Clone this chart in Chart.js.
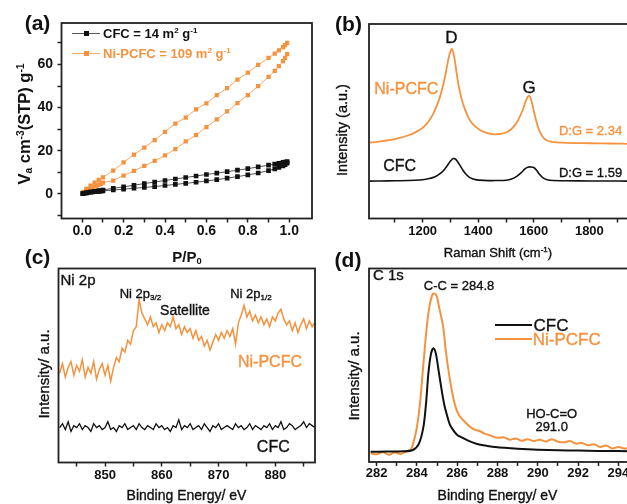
<!DOCTYPE html>
<html><head><meta charset="utf-8">
<script src="https://cdn.jsdelivr.net/npm/chart.js@4.4.1/dist/chart.umd.min.js"></script>
<style>
html,body{margin:0;padding:0;background:#fff;}
#wrap{position:relative;width:627px;height:504px;overflow:hidden;background:#fff;font-family:"Liberation Sans",Arial,sans-serif;}
canvas{position:absolute;left:0;top:0;}
.t{position:absolute;transform:translate(-50%,-50%);white-space:nowrap;line-height:1;color:#111;-webkit-text-stroke:0.35px currentColor;}
.r{transform:translate(-50%,-50%) rotate(-90deg);}
.l{transform:translate(0,-50%);}
.b{font-weight:bold;-webkit-text-stroke:0;}
.o{color:#F5923E;}
sup,sub{font-size:0.62em;line-height:0;}
sup{vertical-align:0.55em;} sub{vertical-align:-0.25em;}
.ln{position:absolute;}
</style></head><body><div id="wrap">
<canvas id="ca" width="640" height="504"></canvas>
<canvas id="cb" width="640" height="504"></canvas>
<canvas id="cc" width="640" height="504"></canvas>
<canvas id="cd" width="640" height="504"></canvas>

<!-- panel labels -->
<div class="t b" style="left:37.5px;top:21.5px;font-size:21px">(a)</div>
<div class="t b" style="left:348.5px;top:22.5px;font-size:21px">(b)</div>
<div class="t b" style="left:37.5px;top:256px;font-size:21px">(c)</div>
<div class="t b" style="left:348px;top:259px;font-size:21px">(d)</div>

<!-- panel a -->
<div class="t r b" style="left:24px;top:123.5px;font-size:16.5px">V<sub>a</sub> cm<sup>-3</sup>(STP) g<sup>-1</sup></div>
<div class="t b" style="left:187px;top:256px;font-size:15px">P/P<sub>0</sub></div>
<div class="ln" style="left:72px;top:32.5px;width:28px;height:1.2px;background:#555"></div>
<div class="ln" style="left:83.5px;top:30.5px;width:5px;height:5px;background:#111"></div>
<div class="t l b" style="left:103px;top:33px;font-size:13px">CFC = 14 m<sup>2</sup> g<sup>-1</sup></div>
<div class="ln" style="left:72px;top:52.8px;width:28px;height:1.2px;background:#F7A865"></div>
<div class="ln" style="left:83.5px;top:51px;width:5px;height:5px;background:#F5923E"></div>
<div class="t l b o" style="left:103px;top:53.3px;font-size:13px">Ni-PCFC = 109 m<sup>2</sup> g<sup>-1</sup></div>

<!-- panel b -->
<div class="t r" style="left:342px;top:130px;font-size:14.5px">Intensity (a.u.)</div>
<div class="t" style="left:498px;top:251.5px;font-size:13px">Raman Shift (cm<sup>-1</sup>)</div>
<div class="t" style="left:451.3px;top:37.3px;font-size:17px">D</div>
<div class="t" style="left:529px;top:87.3px;font-size:17px">G</div>
<div class="t o" style="left:406.3px;top:89px;font-size:16px">Ni-PCFC</div>
<div class="t" style="left:399.7px;top:165.7px;font-size:16px">CFC</div>
<div class="t o" style="left:590.5px;top:129.8px;font-size:13px">D:G = 2.34</div>
<div class="t" style="left:590.5px;top:171.5px;font-size:13px">D:G = 1.59</div>

<!-- panel c -->
<div class="t r" style="left:42.5px;top:374px;font-size:15px">Intensity/ a.u.</div>
<div class="t" style="left:186.5px;top:495px;font-size:14px">Binding Energy/ eV</div>
<div class="t" style="left:78px;top:279px;font-size:15px">Ni 2p</div>
<div class="t" style="left:140.5px;top:293.3px;font-size:13px">Ni 2p<sub>3/2</sub></div>
<div class="t" style="left:185px;top:310px;font-size:14px">Satellite</div>
<div class="t" style="left:251px;top:293.3px;font-size:13px">Ni 2p<sub>1/2</sub></div>
<div class="t o" style="left:270px;top:361.7px;font-size:16px">Ni-PCFC</div>
<div class="t" style="left:273.3px;top:446.7px;font-size:16px">CFC</div>

<!-- panel d -->
<div class="t r" style="left:353px;top:376px;font-size:15px">Intensity/ a.u.</div>
<div class="t" style="left:497.5px;top:495px;font-size:14px">Binding Energy/ eV</div>
<div class="t" style="left:388.3px;top:274px;font-size:15px">C 1s</div>
<div class="t" style="left:459px;top:285px;font-size:13px">C-C = 284.8</div>
<div class="ln" style="left:495px;top:324px;width:37px;height:2px;background:#111"></div>
<div class="ln" style="left:495px;top:337.5px;width:37px;height:2px;background:#F5923E"></div>
<div class="t" style="left:551px;top:325px;font-size:17px">CFC</div>
<div class="t o" style="left:566.7px;top:339px;font-size:17px">Ni-PCFC</div>
<div class="t" style="left:551.7px;top:412.5px;font-size:13px">HO-C=O</div>
<div class="t" style="left:551.7px;top:425.8px;font-size:13px">291.0</div>
</div>
<script>
const ORANGE = '#F5923E';
const BLACK = '#111111';

// ---------- Panel (a): N2 isotherms ----------
const pAds = [0.002, 0.01, 0.02, 0.03, 0.04, 0.05, 0.06, 0.07, 0.08, 0.09, 0.10, 0.15, 0.20, 0.25, 0.30, 0.35, 0.40, 0.45, 0.50, 0.55, 0.60, 0.65, 0.70, 0.75, 0.80, 0.85, 0.90, 0.93, 0.95, 0.97, 0.98, 0.99];
const niAds  = [0.3, 0.9, 1.5, 2.0, 2.5, 3.0, 3.4, 3.8, 4.3, 4.7, 5.2, 6.2, 8.5, 10.7, 13.0, 15.3, 17.8, 20.8, 24.3, 27.2, 31.0, 34.5, 38.2, 42.1, 45.8, 50.0, 54.2, 57.0, 59.2, 61.5, 63.0, 64.8];
const cfcAds = [0.1, 0.3, 0.5, 0.7, 0.8, 0.9, 1.0, 1.1, 1.2, 1.3, 1.4, 1.8, 2.2, 2.6, 3.0, 3.4, 3.9, 4.4, 4.9, 5.4, 6.0, 6.6, 7.3, 8.0, 8.8, 9.7, 10.8, 11.6, 12.3, 13.0, 13.6, 14.2];
const pDes = [0.99, 0.98, 0.97, 0.95, 0.93, 0.90, 0.85, 0.80, 0.75, 0.70, 0.65, 0.60, 0.55, 0.50, 0.45, 0.40, 0.35, 0.30, 0.25, 0.20, 0.15, 0.10, 0.08, 0.06, 0.04, 0.02, 0.005];
const niDes  = [70.0, 69.0, 68.0, 66.5, 65.0, 63.0, 59.8, 56.2, 53.0, 49.0, 45.8, 42.0, 39.2, 35.4, 32.6, 28.8, 24.9, 21.5, 18.2, 14.6, 10.8, 7.7, 6.5, 5.2, 3.8, 2.3, 0.8];
const cfcDes = [15.0, 14.8, 14.6, 14.2, 13.8, 13.3, 12.5, 11.7, 11.0, 10.3, 9.6, 9.0, 8.3, 7.6, 6.9, 6.2, 5.5, 4.8, 4.0, 3.3, 2.6, 1.8, 1.5, 1.2, 0.9, 0.5, 0.2];
const aXMajor = [0, 0.2, 0.4, 0.6, 0.8, 1.0];
const aXLabels = ['0.0', '0.2', '0.4', '0.6', '0.8', '1.0'];
const aXMinor = [0.1, 0.3, 0.5, 0.7, 0.9];
const aYMajor = [0, 20, 40, 60];
const aYLabels = ['0', '20', '40', '60'];
const aYMinor = [-10, 10, 30, 50, 70];

// ---------- Panel (b): Raman ----------
const ramanNiX = [1010, 1030, 1050, 1070, 1090, 1110, 1130, 1150, 1170, 1190, 1205, 1220, 1235, 1248, 1260, 1270, 1280, 1288, 1295, 1300, 1305, 1310, 1316, 1322, 1330, 1340, 1350, 1362, 1375, 1390, 1405, 1420, 1440, 1460, 1480, 1500, 1515, 1530, 1545, 1558, 1568, 1576, 1582, 1588, 1595, 1603, 1612, 1622, 1635, 1650, 1670, 1700, 1750, 1800, 1850, 1900, 1940];
const ramanNiY = [39.0, 39.3, 39.6, 40.1, 40.5, 41.2, 41.9, 42.8, 44.0, 45.6, 47.2, 49.6, 53.0, 57.0, 61.5, 66.5, 72.5, 78.5, 83.5, 86.0, 87.2, 85.5, 81.0, 75.0, 68.0, 61.5, 57.0, 52.8, 49.5, 47.2, 45.6, 44.5, 43.6, 43.3, 43.5, 44.2, 45.5, 47.6, 51.0, 55.0, 59.0, 62.0, 63.2, 62.0, 58.5, 53.5, 48.5, 44.5, 41.5, 40.0, 39.3, 39.0, 38.8, 38.7, 38.6, 38.5, 38.4];
const ramanCfcX = [1010, 1050, 1100, 1150, 1190, 1220, 1245, 1265, 1280, 1292, 1302, 1310, 1318, 1326, 1335, 1345, 1357, 1370, 1390, 1420, 1460, 1500, 1520, 1540, 1555, 1568, 1578, 1590, 1600, 1610, 1620, 1632, 1648, 1670, 1720, 1800, 1870, 1940];
const ramanCfcY = [19.2, 19.3, 19.4, 19.5, 19.8, 20.4, 21.5, 23.3, 25.5, 27.9, 29.8, 30.8, 30.6, 29.2, 27.2, 24.8, 22.6, 21.0, 20.0, 19.6, 19.5, 19.7, 20.3, 21.8, 23.6, 25.5, 26.4, 26.5, 26.2, 24.8, 22.8, 21.0, 19.9, 19.5, 19.4, 19.3, 19.3, 19.2];
const bXMajor = [1200, 1400, 1600, 1800];
const bXLabels = ['1200', '1400', '1600', '1800'];
const bXMinor = [1100, 1300, 1500, 1700, 1900];

// ---------- Panel (c): Ni 2p XPS ----------
const ni2pE = [842, 842.5, 843, 843.5, 844, 844.5, 845, 845.5, 846, 846.5,
  847, 847.5, 848, 848.5, 849, 849.5, 850, 850.5, 851, 851.5,
  852, 852.5, 853, 853.5, 854, 854.5, 855, 855.5, 856, 856.5,
  857, 857.5, 858, 858.5, 859, 859.5, 860, 860.5, 861, 861.5,
  862, 862.5, 863, 863.5, 864, 864.5, 865, 865.5, 866, 866.5,
  867, 867.5, 868, 868.5, 869, 869.5, 870, 870.5, 871, 871.5,
  872, 872.5, 873, 873.5, 874, 874.5, 875, 875.5, 876, 876.5,
  877, 877.5, 878, 878.5, 879, 879.5, 880, 880.5, 881, 881.5,
  882, 882.5, 883, 883.5, 884, 884.5, 885, 885.5, 886, 886.5, 887];
const ni2pNi = [46, 51, 44, 49, 52, 45, 50, 47, 53, 44,
  49, 46, 52, 43, 48, 51, 45, 50, 42, 49,
  54, 52, 59, 57, 63, 61, 68, 70, 84, 77,
  74, 71, 75, 70, 72, 67, 71, 68, 72, 70,
  75, 69, 71, 66, 70, 67, 69, 64, 68, 63,
  65, 60, 63, 58, 62, 66, 63, 67, 64, 68,
  65, 69, 61, 72, 76, 81, 75, 78, 73, 76,
  72, 75, 71, 74, 70, 75, 73, 77, 79, 74,
  71, 73, 68, 72, 67, 71, 74, 69, 73, 70, 72];
const ni2pCfc = [18, 20, 17, 21, 16, 19, 18, 20, 17, 19,
  18, 16, 20, 18, 19, 17, 18, 21, 17, 18,
  16, 19, 18, 20, 17, 18, 19, 17, 20, 18,
  17, 19, 18, 17, 20, 18, 19, 17, 18, 16,
  19, 18, 22, 17, 19, 18, 20, 17, 18, 19,
  17, 20, 18, 16, 19, 18, 20, 17, 18, 19,
  18, 17, 20, 18, 19, 17, 18, 20, 17, 19,
  18, 17, 19, 18, 20, 17, 19, 18, 21, 17,
  18, 20, 19, 17, 18, 19, 21, 18, 20, 19, 18];
const cXMajor = [850, 860, 870, 880];
const cXLabels = ['850', '860', '870', '880'];
const cXMinor = [845, 855, 865, 875, 885];

// ---------- Panel (d): C 1s XPS ----------
const c1sNiE = [281.7, 282.0, 282.3, 282.6, 282.9, 283.2, 283.5, 283.7, 283.85, 284.0, 284.15, 284.3, 284.5, 284.65, 284.8, 284.95, 285.1, 285.3, 285.45, 285.6, 285.75, 285.9, 286.1, 286.5, 286.8, 287.1, 287.4, 287.7, 288.0, 288.3, 288.6, 288.9, 289.2, 289.5, 289.8, 290.1, 290.4, 290.7, 291.0, 291.3, 291.6, 291.9, 292.2, 292.5, 292.8, 293.1, 293.4, 293.7, 294.0, 294.3, 294.5];
const c1sNi = [4.5, 4.0, 5.2, 3.8, 4.9, 4.2, 5.5, 6.5, 11, 18, 30, 48, 71, 82, 87, 86.5, 80, 70, 56, 45, 36, 29, 24, 19.5, 17, 16, 14.5, 13.5, 12.5, 12.8, 11.5, 12.2, 11, 11.8, 10.8, 11.5, 10.6, 11.8, 10.5, 10.2, 10.8, 9.5, 9.8, 8.6, 9.2, 7.8, 8.5, 7.0, 7.8, 6.9, 7.2];
const c1sCfcE = [281.7, 282.5, 283.3, 283.8, 284.1, 284.32, 284.45, 284.57, 284.7, 284.82, 284.94, 285.08, 285.23, 285.35, 285.47, 285.63, 285.8, 286.0, 286.3, 286.6, 286.95, 287.5, 288.0, 288.5, 289.5, 290.5, 291.5, 292.5, 293.5, 294.5];
const c1sCfc = [5.3, 5.4, 5.5, 6.2, 9.5, 18, 30, 46, 56, 58.8, 56, 47, 37, 30, 25, 19.5, 16.5, 14, 12.3, 10.8, 9.4, 8.3, 7.6, 7.2, 6.6, 6.2, 6.0, 5.8, 5.7, 5.6];
const dXMajor = [282, 284, 286, 288, 290, 292, 294];
const dXLabels = ['282', '284', '286', '288', '290', '292', '294'];
const dXMinor = [283, 285, 287, 289, 291, 293];

// ---------- helpers ----------
const pts = (xs, ys) => xs.map((x, i) => ({x, y: ys[i]}));
const framePlugin = {
  id: 'frame',
  afterDatasetsDraw(chart) {
    const {ctx, chartArea: a} = chart;
    ctx.save();
    ctx.strokeStyle = '#222';
    ctx.lineWidth = 1.8;
    ctx.strokeRect(a.left, a.top, a.right - a.left, a.bottom - a.top);
    ctx.restore();
  }
};
function labelCb(majors, labels) {
  return v => { const i = majors.findIndex(m => Math.abs(m - v) < 1e-9); return i >= 0 ? labels[i] : ''; };
}
function tickAxis(horizontal, min, max, majors, labels, minors, font, padding, size) {
  return {
    type: 'linear', min, max,
    afterBuildTicks: s => { s.ticks = majors.concat(minors).sort((p, q) => p - q).map(v => ({value: v})); },
    afterFit: s => {
      if (horizontal) { s.height = size; s.paddingLeft = 0; s.paddingRight = 0; }
      else { s.width = size; s.paddingTop = 0; s.paddingBottom = 0; }
    },
    border: {display: false},
    grid: {display: true, drawOnChartArea: false, drawTicks: true, tickLength: 4, tickWidth: 1.5, tickColor: '#222'},
    ticks: {autoSkip: false, maxRotation: 0, minRotation: 0, padding, color: '#111', font, callback: labelCb(majors, labels)}
  };
}
function hiddenY(min, max) { return {type: 'linear', min, max, display: false}; }
function baseOptions(padding, scales) {
  return {
    responsive: false, maintainAspectRatio: false, animation: false, devicePixelRatio: 1, events: [],
    layout: {padding},
    plugins: {legend: {display: false}, tooltip: {enabled: false}},
    scales
  };
}
const fontA = {family: '"Liberation Sans", Arial, sans-serif', size: 14, weight: 'bold'};
const fontB = {family: '"Liberation Sans", Arial, sans-serif', size: 13, weight: 'bold'};

// ---------- chart (a) ----------
new Chart(document.getElementById('ca'), {
  type: 'scatter',
  data: {datasets: [
    {data: pts(pAds, cfcAds), showLine: true, borderColor: '#555', borderWidth: 1, pointStyle: 'rect', pointRadius: 3.3, pointBackgroundColor: BLACK, pointBorderWidth: 0},
    {data: pts(pDes, cfcDes), showLine: true, borderColor: '#555', borderWidth: 1, pointStyle: 'rect', pointRadius: 3.3, pointBackgroundColor: BLACK, pointBorderWidth: 0},
    {data: pts(pAds, niAds), showLine: true, borderColor: '#F7A865', borderWidth: 1, pointStyle: 'rect', pointRadius: 3.0, pointBackgroundColor: ORANGE, pointBorderWidth: 0},
    {data: pts(pDes, niDes), showLine: true, borderColor: '#F7A865', borderWidth: 1, pointStyle: 'rect', pointRadius: 3.0, pointBackgroundColor: ORANGE, pointBorderWidth: 0}
  ]},
  options: baseOptions({left: 11.5, top: 23, right: 328, bottom: 255.5}, {
    x: tickAxis(true, -0.1, 1.11, aXMajor, aXLabels, aXMinor, fontA, 0.5, 30),
    y: tickAxis(false, -11.4, 79.2, aYMajor, aYLabels, aYMinor, fontA, 4.5, 50)
  }),
  plugins: [framePlugin]
});

// ---------- chart (b) ----------
new Chart(document.getElementById('cb'), {
  type: 'scatter',
  data: {datasets: [
    {data: pts(ramanCfcX, ramanCfcY), showLine: true, borderColor: BLACK, borderWidth: 1.6, pointRadius: 0, tension: 0.3},
    {data: pts(ramanNiX, ramanNiY), showLine: true, borderColor: ORANGE, borderWidth: 1.8, pointRadius: 0, tension: 0.3}
  ]},
  options: baseOptions({left: 369, top: 24, right: 12, bottom: 255.5}, {
    x: tickAxis(true, 1007, 1939, bXMajor, bXLabels, bXMinor, fontB, 1.5, 30),
    y: hiddenY(0, 100)
  }),
  plugins: [framePlugin]
});

// ---------- chart (c) ----------
new Chart(document.getElementById('cc'), {
  type: 'scatter',
  data: {datasets: [
    {data: pts(ni2pE, ni2pCfc), showLine: true, borderColor: BLACK, borderWidth: 1.3, pointRadius: 0, tension: 0},
    {data: pts(ni2pE, ni2pNi), showLine: true, borderColor: ORANGE, borderWidth: 1.5, pointRadius: 0, tension: 0}
  ]},
  options: baseOptions({left: 58.5, top: 268.5, right: 325, bottom: 11.5}, {
    x: tickAxis(true, 841.8, 887, cXMajor, cXLabels, cXMinor, fontB, 0.7, 30),
    y: hiddenY(0, 100)
  }),
  plugins: [framePlugin]
});

// ---------- chart (d) ----------
new Chart(document.getElementById('cd'), {
  type: 'scatter',
  data: {datasets: [
    {data: pts(c1sCfcE, c1sCfc), showLine: true, borderColor: BLACK, borderWidth: 2, pointRadius: 0, tension: 0.3},
    {data: pts(c1sNiE, c1sNi), showLine: true, borderColor: ORANGE, borderWidth: 2, pointRadius: 0, tension: 0.3}
  ]},
  options: baseOptions({left: 369, top: 268.5, right: 12, bottom: 12}, {
    x: tickAxis(true, 281.62, 294.48, dXMajor, dXLabels, dXMinor, fontB, 0, 30),
    y: hiddenY(0, 100)
  }),
  plugins: [framePlugin]
});
</script>
</body></html>
